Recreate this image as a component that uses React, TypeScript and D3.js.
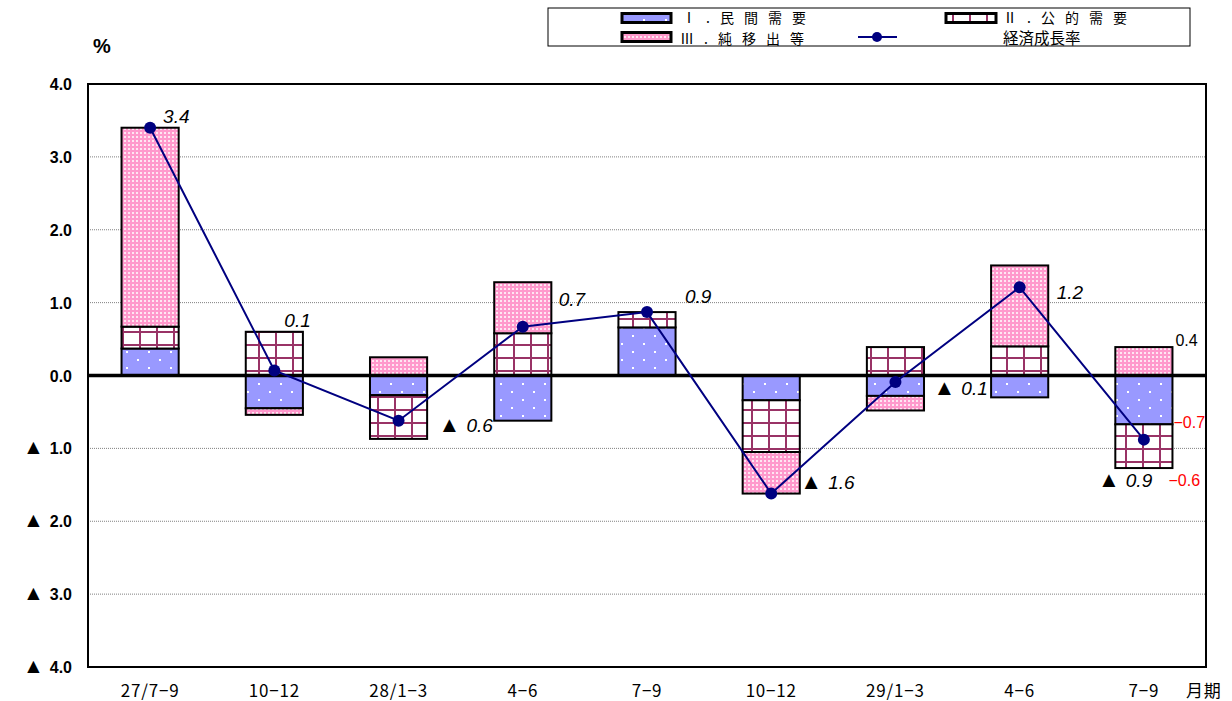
import { useEffect } from 'react';
import * as d3 from 'd3';

const WIDTH = 1232;
const HEIGHT = 701;
const MARGIN = { top: 84, right: 26, bottom: 34, left: 88 };

// 期間 (categories)
const categories = ['27/7−9', '10−12', '28/1−3', '4−6', '7−9', '10−12', '29/1−3', '4−6', '7−9'];

// contributions (%)
const privateDemand = [0.37, -0.45, -0.27, -0.62, 0.66, -0.34, -0.28, -0.3, -0.67];
const publicDemand = [0.3, 0.6, -0.6, 0.58, 0.21, -0.71, 0.39, 0.4, -0.6];
const netExports = [2.73, -0.09, 0.25, 0.7, 0.0, -0.57, -0.2, 1.11, 0.39];
const growthRate = [3.4, 0.07, -0.62, 0.67, 0.87, -1.62, -0.09, 1.21, -0.88];
const growthLabels = ['3.4', '0.1', '▲ 0.6', '0.7', '0.9', '▲ 1.6', '▲ 0.1', '1.2', '▲ 0.9'];

const yTicks = [4, 3, 2, 1, 0, -1, -2, -3, -4];

// hand placed label offsets (dx, dy) from each point, like the original sheet
const labelOffsets = [
  [13, -5], [10, -43], [40, 11], [36, -21], [38, -9], [29, -5], [38, 13], [37, 12], [-46, 47],
];

const seriesKeys = ['private', 'public', 'net'] as const;
const fills: Record<string, string> = {
  private: 'url(#pPrivate)',
  public: 'url(#pPublic)',
  net: 'url(#pNet)',
};

type Row = { i: number; private: number; public: number; net: number };

const rows: Row[] = categories.map((_, i) => ({
  i,
  private: privateDemand[i],
  public: publicDemand[i],
  net: netExports[i],
}));

const fmtMinus = (v: number) => (v < 0 ? '−' + Math.abs(v).toFixed(1) : v.toFixed(1));

const JP = "'Noto Sans CJK JP', sans-serif";
const SANS = "'Liberation Sans', Arial, sans-serif";

const Chart = () => {
  const boundsWidth = WIDTH - MARGIN.left - MARGIN.right;
  const boundsHeight = HEIGHT - MARGIN.top - MARGIN.bottom;

  const xScale = d3
    .scaleBand<number>()
    .domain(categories.map((_, i) => i))
    .range([0, boundsWidth])
    .paddingInner(0.54)
    .paddingOuter(0.27);
  const bw = xScale.bandwidth();
  const cx = (i: number) => (xScale(i) || 0) + bw / 2;

  const yScale = d3.scaleLinear().domain([-4, 4]).range([boundsHeight, 0]);

  const stacked = d3
    .stack<Row>()
    .keys(seriesKeys as unknown as string[])
    .offset(d3.stackOffsetDiverging)(rows);

  const linePath = d3
    .line<number>()
    .x((_, i) => cx(i))
    .y((d) => yScale(d))(growthRate);

  // last bar annotations
  const last = categories.length - 1;
  const lastSeg = (key: string) => stacked.find((s) => s.key === key)![last];
  const barRight = (xScale(last) || 0) + bw;

  return (
    <svg width={WIDTH} height={HEIGHT} style={{ display: 'block', background: '#fff' }}>
      <defs>
        <pattern id="pPrivate" patternUnits="userSpaceOnUse" width={22} height={16}>
          <rect width={22} height={16} fill="#9999ff" />
          <rect x={5} y={3} width={2} height={2} fill="#fff" />
          <rect x={16} y={11} width={2} height={2} fill="#fff" />
        </pattern>
        <pattern id="pPublic" patternUnits="userSpaceOnUse" width={17} height={13}>
          <rect width={17} height={13} fill="#fff" />
          <rect x={0} y={0} width={17} height={2} fill="#993366" />
          <rect x={0} y={0} width={2} height={13} fill="#993366" />
        </pattern>
        <pattern id="pNet" patternUnits="userSpaceOnUse" width={4} height={4}>
          <rect width={4} height={4} fill="#ff99cc" />
          <rect x={0} y={0} width={2} height={2} fill="#ffe6f2" />
        </pattern>
      </defs>

      {/* legend */}
      <g fontFamily={JP} fontSize={14}>
        <rect x={548} y={8} width={642} height={38} fill="#fff" stroke="#000" strokeWidth={1} />
        <rect x={622} y={13.5} width={49} height={9} fill={fills.private} stroke="#000" strokeWidth={3} />
        <text x={682} y={23} letterSpacing={10}>Ⅰ.民間需要</text>
        <rect x={946} y={13.5} width={50} height={9} fill={fills.public} stroke="#000" strokeWidth={3} />
        <text x={1003} y={23} letterSpacing={10}>Ⅱ.公的需要</text>
        <rect x={622} y={32.5} width={49} height={9} fill={fills.net} stroke="#000" strokeWidth={3} />
        <text x={680} y={43.5} letterSpacing={10}>Ⅲ.純移出等</text>
        <line x1={858} x2={897} y1={37} y2={37} stroke="#000080" strokeWidth={2} />
        <circle cx={877} cy={37} r={5} fill="#000080" />
        <text x={1003} y={43.5} fontSize={15.5}>経済成長率</text>
      </g>

      <text x={93} y={53} fontFamily={SANS} fontWeight="bold" fontSize={20}>
        %
      </text>

      <g transform={`translate(${MARGIN.left},${MARGIN.top})`}>
        {/* grid */}
        {yTicks
          .filter((t) => t !== 0 && Math.abs(t) !== 4)
          .map((t) => (
            <line
              key={t}
              x1={0}
              x2={boundsWidth}
              y1={yScale(t)}
              y2={yScale(t)}
              stroke="#808080"
              strokeWidth={1}
              strokeDasharray="1,1"
            />
          ))}

        {/* bars */}
        {stacked.map((series) => (
          <g key={series.key}>
            {series.map((d, i) => {
              const h = Math.abs(yScale(d[0]) - yScale(d[1]));
              if (h < 0.5) return null;
              return (
                <rect
                  key={i}
                  x={xScale(i)}
                  y={Math.min(yScale(d[0]), yScale(d[1]))}
                  width={bw}
                  height={h}
                  fill={fills[series.key]}
                  stroke="#000"
                  strokeWidth={2}
                />
              );
            })}
          </g>
        ))}

        {/* zero line */}
        <line x1={0} x2={boundsWidth} y1={yScale(0)} y2={yScale(0)} stroke="#000" strokeWidth={3.5} />

        {/* frame */}
        <rect x={0} y={0} width={boundsWidth} height={boundsHeight} fill="none" stroke="#000" strokeWidth={2} />

        {/* growth line */}
        <path d={linePath || ''} fill="none" stroke="#000080" strokeWidth={2} />
        {growthRate.map((v, i) => (
          <circle key={i} cx={cx(i)} cy={yScale(v)} r={6} fill="#000080" />
        ))}

        {/* growth labels */}
        {growthRate.map((v, i) => {
          const lab = growthLabels[i];
          const neg = lab.startsWith('▲');
          return (
            <text
              key={i}
              x={cx(i) + labelOffsets[i][0]}
              y={yScale(v) + labelOffsets[i][1]}
              fontFamily={SANS}
              fontSize={19}
              fill="#000"
            >
              {neg && (
                <tspan fontStyle="normal" fontSize={22}>
                  ▲{' '}
                </tspan>
              )}
              <tspan fontStyle="italic">{neg ? lab.replace('▲ ', '') : lab}</tspan>
            </text>
          );
        })}

        {/* annotations on last bar */}
        <g fontFamily={SANS} fontSize={16}>
          <text x={barRight + 3} y={yScale(lastSeg('net')[1]) - 1}>
            {netExports[last].toFixed(1)}
          </text>
          <text x={barRight + 1} y={yScale(lastSeg('private')[0]) + 4} fill="#ff0000">
            {fmtMinus(Math.round(privateDemand[last] * 10) / 10)}
          </text>
          <text x={barRight - 4} y={yScale(lastSeg('public')[0]) + 18} fill="#ff0000">
            {fmtMinus(Math.round(publicDemand[last] * 10) / 10)}
          </text>
        </g>

        {/* y axis labels */}
        <g fontFamily={SANS} fontSize={16} fontWeight="bold">
          {yTicks.map((t) => (
            <text key={t} x={-16} y={yScale(t) + 6} textAnchor="end">
              {t < 0 && (
                <tspan fontSize={21} fontWeight="normal">
                  ▲{'   '}
                </tspan>
              )}
              {Math.abs(t).toFixed(1)}
            </text>
          ))}
        </g>

        {/* x axis labels */}
        <g fontFamily={JP} fontSize={17} textAnchor="middle" letterSpacing={0.8}>
          {categories.map((c, i) => (
            <text key={i} x={cx(i)} y={boundsHeight + 30}>
              {c}
            </text>
          ))}
          <text x={boundsWidth - 20} y={boundsHeight + 30} textAnchor="start">
            月期
          </text>
        </g>
      </g>
    </svg>
  );
};

export default function App() {
  useEffect(() => {
    document.body.style.margin = '0';
  }, []);
  return (
    <div style={{ position: 'absolute', left: 0, top: 0 }}>
      <Chart />
    </div>
  );
}
